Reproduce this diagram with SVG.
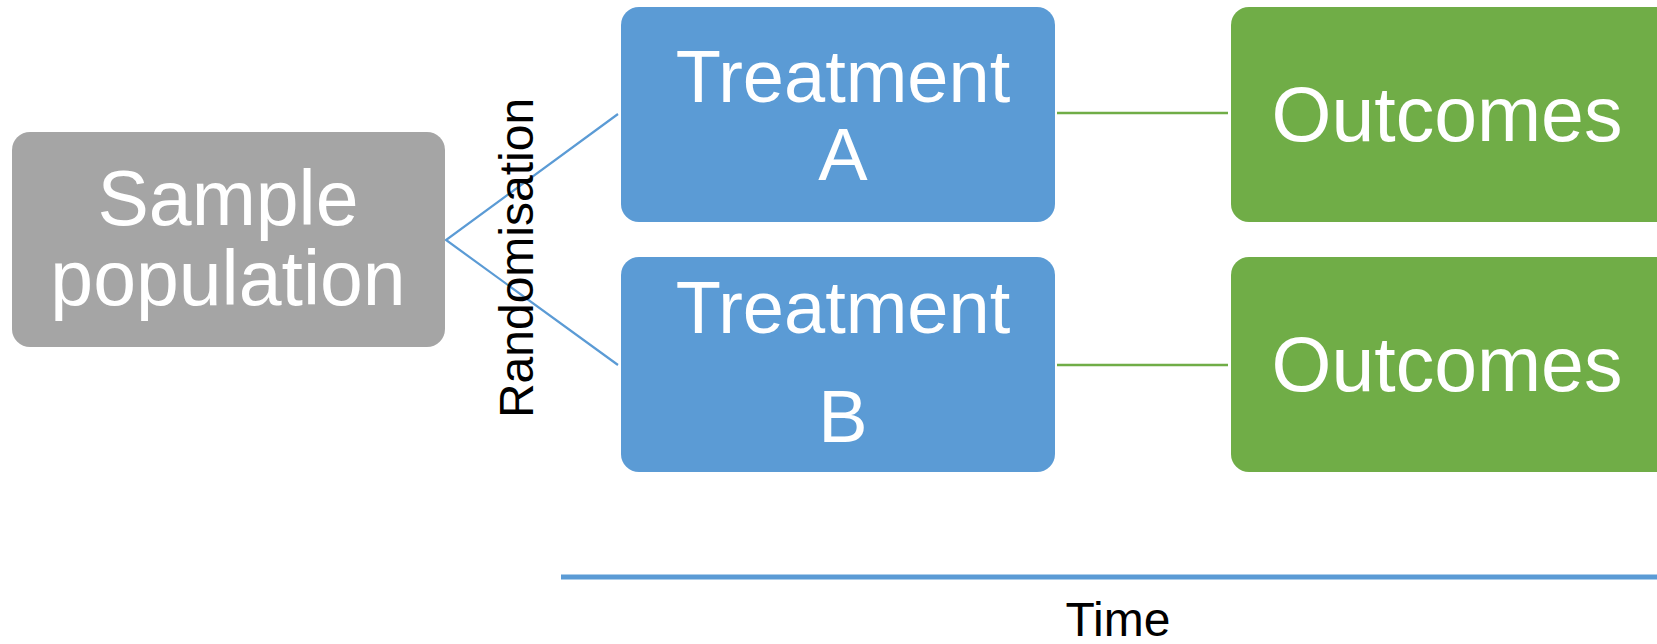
<svg xmlns="http://www.w3.org/2000/svg" width="1657" height="644" viewBox="0 0 1657 644">
<style>
.node text{font-family:"Liberation Sans",Arial,sans-serif;fill:#fff;text-anchor:middle}
.lbl{font-family:"Liberation Sans",Arial,sans-serif;fill:#000;text-anchor:middle;font-size:48px}
</style>
<rect width="1657" height="644" fill="#fff"/>
<g id="connectors" fill="none">
<polyline points="618,114 446,240 618,365" stroke="#5B9BD5" stroke-width="2.2"/>
<line x1="1057" y1="113" x2="1228" y2="113" stroke="#70AD47" stroke-width="2.5"/>
<line x1="1057" y1="365" x2="1228" y2="365" stroke="#70AD47" stroke-width="2.5"/>
</g>
<g id="sample" class="node">
<rect x="12" y="132" width="433" height="215" rx="18" fill="#A5A5A5"/>
<text x="228" y="225" font-size="77">Sample</text>
<text x="228" y="305" font-size="77">population</text>
</g>
<g id="treatA" class="node">
<rect x="621" y="7" width="434" height="215" rx="18" fill="#5B9BD5"/>
<text x="843" y="102" font-size="74">Treatment</text>
<text x="843" y="180" font-size="74">A</text>
</g>
<g id="treatB" class="node">
<rect x="621" y="257" width="434" height="215" rx="18" fill="#5B9BD5"/>
<text x="843" y="333" font-size="74">Treatment</text>
<text x="843" y="442" font-size="74">B</text>
</g>
<g id="outA" class="node">
<rect x="1231" y="7" width="444" height="215" rx="18" fill="#70AD47"/>
<text x="1447" y="141" font-size="77">Outcomes</text>
</g>
<g id="outB" class="node">
<rect x="1231" y="257" width="444" height="215" rx="18" fill="#70AD47"/>
<text x="1447" y="391" font-size="77">Outcomes</text>
</g>
<g id="labels">
<text class="lbl" transform="translate(533,258) rotate(-90)">Randomisation</text>
<line x1="561" y1="577" x2="1657" y2="577" stroke="#5B9BD5" stroke-width="5"/>
<text class="lbl" x="1118" y="636">Time</text>
</g>
</svg>
